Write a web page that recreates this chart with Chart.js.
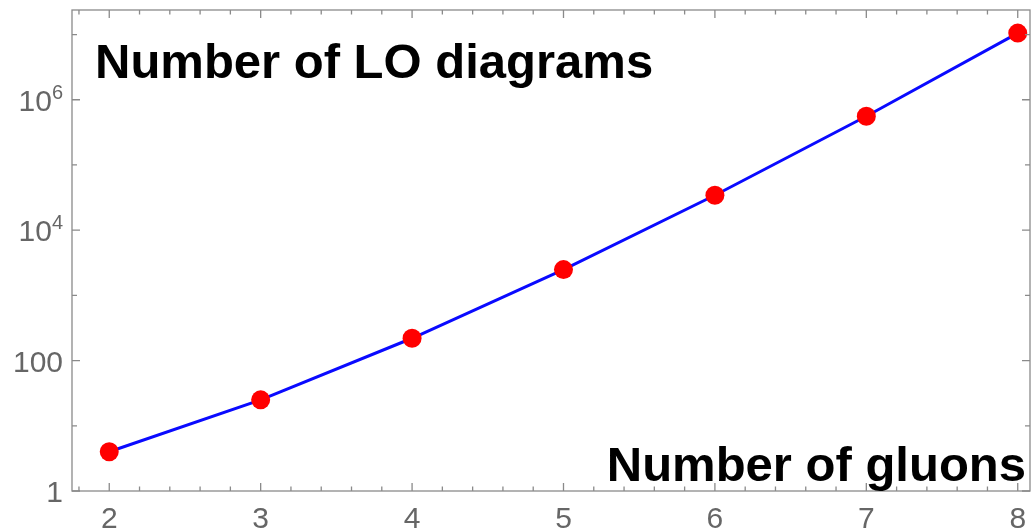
<!DOCTYPE html>
<html>
<head>
<meta charset="utf-8">
<script src="https://cdn.jsdelivr.net/npm/chart.js@4/dist/chart.umd.min.js"></script>
<style>
	body { margin: 0; background: #fff; }
	#wrap { width: 1032px; height: 531px; position: relative; }
</style>
</head>
<body>
<div id="wrap"><canvas id="chart-lo-diagrams"></canvas></div>
<script>
	// number of gluons vs. number of LO Feynman diagrams
	var gluons = [2, 3, 4, 5, 6, 7, 8];
	var diagrams = [4, 25, 220, 2485, 34300, 559405, 10525900];

	var xTicks = [2, 3, 4, 5, 6, 7, 8];
	var yTicks = [1, 100, 10000, 1000000];
	var yTickBase = ["1", "100", "10", "10"];
	var yTickExp = ["", "", "4", "6"];
	var yMinorTicks = [10, 1000, 100000, 10000000];

	var fontFamily = "'Liberation Sans', Arial, Helvetica, sans-serif";

	var framePlugin = {
		id: "frame",
		afterDraw: function(chart)
		{
			var ctx = chart.ctx;
			var a = chart.chartArea;
			var xs = chart.scales.x;
			var ys = chart.scales.y;

			ctx.save();
			ctx.strokeStyle = "#8a8a8a";
			ctx.lineWidth = 1.3;
			ctx.strokeRect(a.left, a.top, a.right - a.left, a.bottom - a.top);

			ctx.beginPath();
			// x ticks, bottom and top, pointing inwards
			for (var v = 1.8; v < 8.1; v += 0.2)
			{
				var px = xs.getPixelForValue(v);
				var major = Math.abs(v - Math.round(v)) < 0.01;
				var len = major ? 8 : 4.5;
				ctx.moveTo(px, a.bottom);
				ctx.lineTo(px, a.bottom - len);
				ctx.moveTo(px, a.top);
				ctx.lineTo(px, a.top + len);
			}
			// y ticks, left and right
			yTicks.forEach(function(t)
			{
				var py = ys.getPixelForValue(t);
				ctx.moveTo(a.left, py);
				ctx.lineTo(a.left + 8, py);
				ctx.moveTo(a.right, py);
				ctx.lineTo(a.right - 8, py);
			});
			yMinorTicks.forEach(function(t)
			{
				var py = ys.getPixelForValue(t);
				ctx.moveTo(a.left, py);
				ctx.lineTo(a.left + 5, py);
				ctx.moveTo(a.right, py);
				ctx.lineTo(a.right - 5, py);
			});
			ctx.stroke();

			// tick labels
			ctx.fillStyle = "#666";
			ctx.textBaseline = "alphabetic";
			ctx.font = "30px " + fontFamily;
			ctx.textAlign = "center";
			xTicks.forEach(function(t)
			{
				ctx.fillText(String(t), xs.getPixelForValue(t), a.bottom + 37);
			});

			ctx.textAlign = "left";
			yTicks.forEach(function(t, i)
			{
				var py = ys.getPixelForValue(t) + 11;
				ctx.font = "30px " + fontFamily;
				var wBase = ctx.measureText(yTickBase[i]).width;
				ctx.font = "20px " + fontFamily;
				var wExp = yTickExp[i] ? ctx.measureText(yTickExp[i]).width : 0;
				var x0 = a.left - 9 - wBase - wExp;
				ctx.font = "30px " + fontFamily;
				ctx.fillText(yTickBase[i], x0, py);
				if (yTickExp[i])
				{
					ctx.font = "20px " + fontFamily;
					ctx.fillText(yTickExp[i], x0 + wBase, py - 12);
				}
			});

			// labels inside the frame
			ctx.fillStyle = "#000";
			ctx.font = "bold 49px " + fontFamily;
			ctx.textAlign = "left";
			ctx.fillText("Number of LO diagrams", 95, 78);
			ctx.textAlign = "right";
			ctx.fillText("Number of gluons", 1026, 481);
			ctx.restore();
		}
	};

	var points = gluons.map(function(g, i) { return { x: g, y: diagrams[i] }; });

	new Chart("chart-lo-diagrams", {
		type: "scatter",
		data: {
			datasets: [{
				data: points,
				showLine: true,
				borderColor: "#0a0aff",
				borderWidth: 3,
				backgroundColor: "#ff0000",
				pointBackgroundColor: "#ff0000",
				pointBorderWidth: 0,
				pointRadius: 9.5,
				clip: false
			}]
		},
		options: {
			responsive: true,
			maintainAspectRatio: false,
			animation: false,
			layout: {
				autoPadding: false,
				padding: { left: 72, top: 10, right: 2, bottom: 40 }
			},
			plugins: {
				legend: { display: false },
				tooltip: { enabled: false }
			},
			scales: {
				x: {
					type: "linear",
					display: false,
					min: 1.754,
					max: 8.081
				},
				y: {
					type: "logarithmic",
					display: false,
					min: 1,
					max: 23800000
				}
			}
		},
		plugins: [framePlugin]
	});
</script>
</body>
</html>
